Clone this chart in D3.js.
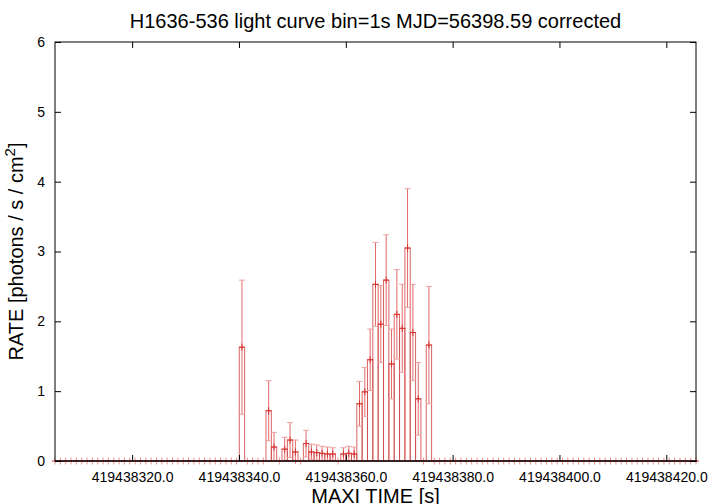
<!DOCTYPE html>
<html>
<head>
<meta charset="utf-8">
<title>H1636-536 light curve</title>
<script src="https://cdn.jsdelivr.net/npm/d3@7"></script>
<style>
  body { margin: 0; background: #fff; }
  svg { display: block; font-family: "Liberation Sans", Arial, sans-serif; }
</style>
</head>
<body>
<svg width="720" height="504"></svg>
<script>
// light curve, 1 s bins, times are bin centres (MAXI time, s)
var binStart = 419438305.56;
var binSize = 1;
var rate = [
  0, 0, 0, 0, 0, 0, 0, 0, 0, 0,
  0, 0, 0, 0, 0, 0, 0, 0, 0, 0,
  0, 0, 0, 0, 0, 0, 0, 0, 0, 0,
  0, 0, 0, 0, 0, 1.63, 0, 0, 0, 0,
  0.72, 0.20, 0, 0.17, 0.30, 0.13, 0, 0.25, 0.13, 0.12,
  0.11, 0.10, 0.10, 0, 0.10, 0.11, 0.10, 0.82, 0.99, 1.45,
  2.53, 1.96, 2.59, 1.39, 2.10, 1.90, 3.05, 1.84, 0.89, 0,
  1.66, 0, 0, 0, 0, 0, 0, 0, 0, 0,
  0, 0, 0, 0, 0, 0, 0, 0, 0, 0,
  0, 0, 0, 0, 0, 0, 0, 0, 0, 0,
  0, 0, 0, 0, 0, 0, 0, 0, 0, 0,
  0, 0, 0, 0, 0, 0, 0, 0, 0, 0,
  0
];
var rateErr = [
  0, 0, 0, 0, 0, 0, 0, 0, 0, 0,
  0, 0, 0, 0, 0, 0, 0, 0, 0, 0,
  0, 0, 0, 0, 0, 0, 0, 0, 0, 0,
  0, 0, 0, 0, 0, 0.96, 0, 0, 0, 0,
  0.43, 0.21, 0, 0.17, 0.25, 0.17, 0, 0.19, 0.11, 0.11,
  0.10, 0.10, 0.09, 0, 0.09, 0.10, 0.10, 0.32, 0.35, 0.44,
  0.60, 0.55, 0.65, 0.50, 0.64, 0.63, 0.85, 0.69, 0.52, 0,
  0.84, 0, 0, 0, 0, 0, 0, 0, 0, 0,
  0, 0, 0, 0, 0, 0, 0, 0, 0, 0,
  0, 0, 0, 0, 0, 0, 0, 0, 0, 0,
  0, 0, 0, 0, 0, 0, 0, 0, 0, 0,
  0, 0, 0, 0, 0, 0, 0, 0, 0, 0,
  0
];
var xTicks = [419438320, 419438340, 419438360, 419438380, 419438400, 419438420];
var yTicks = [0, 1, 2, 3, 4, 5, 6];

var data = rate.map(function(v, i) {
  return {t: binStart + i * binSize, v: v, e: rateErr[i]};
});

var L = 55, R = 696, T = 42, B = 461;
var x = d3.scaleLinear().domain([binStart, binStart + 120 * binSize]).range([L, R]);
var y = d3.scaleLinear().domain([0, 6]).range([B, T]);

var svg = d3.select("svg");

svg.append("defs").append("clipPath").attr("id", "plotclip")
  .append("rect").attr("x", L).attr("y", T).attr("width", R - L).attr("height", B - T);

// boxes (histogram outline)
svg.append("g")
    .attr("clip-path", "url(#plotclip)")
  .selectAll("rect")
  .data(data)
  .enter()
  .append("rect")
    .attr("x", function(d) { return x(d.t - binSize / 2); })
    .attr("width", function(d) { return x(d.t + binSize / 2) - x(d.t - binSize / 2); })
    .attr("y", function(d) { return y(d.v); })
    .attr("height", function(d) { return y(0) - y(d.v); })
    .style("fill", "none")
    .style("stroke", "#d24a4a")
    .style("stroke-opacity", 0.85)
    .style("stroke-width", 1);

// error bars
var eb = svg.append("g")
    .style("stroke", "#e46a6a")
    .style("stroke-width", 1);

eb.selectAll("line.bar")
  .data(data.filter(function(d) { return d.e > 0; }))
  .enter()
  .append("line")
    .attr("class", "bar")
    .attr("x1", function(d) { return x(d.t); })
    .attr("x2", function(d) { return x(d.t); })
    .attr("y1", function(d) { return y(d.v - d.e); })
    .attr("y2", function(d) { return y(d.v + d.e); });

eb.selectAll("line.capHi")
  .data(data.filter(function(d) { return d.e > 0; }))
  .enter()
  .append("line")
    .attr("class", "capHi")
    .attr("x1", function(d) { return x(d.t) - 3; })
    .attr("x2", function(d) { return x(d.t) + 3; })
    .attr("y1", function(d) { return y(d.v + d.e); })
    .attr("y2", function(d) { return y(d.v + d.e); })
    .style("stroke", "#f0a0a0");

eb.selectAll("line.capLo")
  .data(data.filter(function(d) { return d.e > 0 && d.v - d.e > 0; }))
  .enter()
  .append("line")
    .attr("class", "capLo")
    .attr("x1", function(d) { return x(d.t) - 3; })
    .attr("x2", function(d) { return x(d.t) + 3; })
    .attr("y1", function(d) { return y(d.v - d.e); })
    .attr("y2", function(d) { return y(d.v - d.e); })
    .style("stroke", "#f0a0a0");

// "+" points at each value
var pts = svg.append("g")
    .style("stroke", "#d83030")
    .style("stroke-width", 1)
  .selectAll("g")
  .data(data)
  .enter()
  .append("g")
    .attr("transform", function(d) { return "translate(" + x(d.t) + "," + y(d.v) + ")"; });
pts.append("line").attr("x1", -3).attr("x2", 3).attr("y1", 0).attr("y2", 0);
pts.append("line").attr("x1", 0).attr("x2", 0).attr("y1", -3.5).attr("y2", 3.5)
    .style("stroke", function(d) { return d.v == 0 ? "#ee9090" : "#d83030"; });

// border and ticks
svg.append("rect")
    .attr("x", L).attr("y", T).attr("width", R - L).attr("height", B - T)
    .style("fill", "none").style("stroke", "#000").style("stroke-width", 1);
svg.append("line")
    .attr("x1", L).attr("x2", R + 1).attr("y1", B).attr("y2", B)
    .style("stroke", "#3a2020").style("stroke-width", 2);

svg.append("g")
    .attr("transform", "translate(0," + B + ")")
    .call(d3.axisBottom(x).tickValues(xTicks).tickSize(-6).tickPadding(11)
      .tickFormat(function(d) { return d.toFixed(1); }))
    .call(function(g) { g.select(".domain").remove(); });
svg.append("g")
    .attr("transform", "translate(0," + T + ")")
    .call(d3.axisTop(x).tickValues(xTicks).tickSize(-6).tickFormat(""))
    .call(function(g) { g.select(".domain").remove(); });
svg.append("g")
    .attr("transform", "translate(" + L + ",0)")
    .call(d3.axisLeft(y).tickValues(yTicks).tickSize(-6).tickPadding(10)
      .tickFormat(d3.format("d")))
    .call(function(g) { g.select(".domain").remove(); });
svg.append("g")
    .attr("transform", "translate(" + R + ",0)")
    .call(d3.axisRight(y).tickValues(yTicks).tickSize(-6).tickFormat(""))
    .call(function(g) { g.select(".domain").remove(); });

svg.selectAll(".tick text")
    .style("font-family", "Liberation Sans, Arial, sans-serif")
    .style("font-size", "14px")
    .style("fill", "#000");
svg.selectAll(".tick line").style("stroke", "#000");

// titles
svg.append("text")
    .attr("x", (L + R) / 2)
    .attr("y", 28)
    .attr("text-anchor", "middle")
    .style("font-size", "20px")
    .text("H1636-536 light curve bin=1s MJD=56398.59 corrected");

svg.append("text")
    .attr("x", (L + R) / 2)
    .attr("y", 503)
    .attr("text-anchor", "middle")
    .style("font-size", "20px")
    .text("MAXI TIME [s]");

var yl = svg.append("text")
    .attr("transform", "rotate(-90)")
    .attr("x", -(T + B) / 2)
    .attr("y", 23)
    .attr("text-anchor", "middle")
    .style("font-size", "20px");
yl.append("tspan").text("RATE [photons / s / cm");
yl.append("tspan").attr("dy", -8).style("font-size", "15px").text("2");
yl.append("tspan").attr("dy", 8).text("]");
</script>
</body>
</html>
